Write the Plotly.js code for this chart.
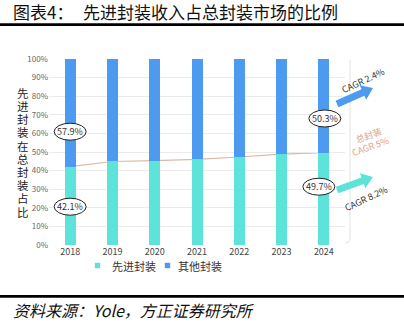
<!DOCTYPE html>
<html>
<head>
<meta charset="utf-8">
<script src="https://cdn.plot.ly/plotly-3.0.1.min.js"></script>
<style>
html,body{margin:0;padding:0;background:#fff;}
#chart{width:404px;height:324px;}
</style>
</head>
<body>
<div id="chart"></div>
<script>
// ---- data ----
const years = ['2018','2019','2020','2021','2022','2023','2024'];
const advanced = [42.1, 44.9, 45.4, 46.0, 47.3, 48.9, 49.7];
const others = [57.9, 55.1, 54.6, 54.0, 52.7, 51.1, 50.3];
const seriesNames = ['先进封装', '其他封装'];
const yTickVals = [0,10,20,30,40,50,60,70,80,90,100];
const yTitleText = '先进封装在总封装占比';
const cagrOther = 'CAGR 2.4%';
const cagrTotal = ['总封装', 'CAGR 5%'];
const cagrAdv = 'CAGR 8.2%';
const titlePrefix = '图表4：';
const titleText = '先进封装收入占总封装市场的比例';
const sourceText = '资料来源：Yole，方正证券研究所';

// ---- styles ----
const CYAN = '#5DE3D9';
const BLUE = '#4C9BF0';
const TAN = '#DBB9A4';
const FONT = '"Noto Sans CJK SC","Noto Sans",sans-serif';

// plot area in pixels
const L = 49, R = 59, T = 59, Bm = 79;
const W = 404 - L - R, H = 324 - T - Bm, BOT = 324 - Bm;
const P = X => (X - L) / W;
const Q = Y => (BOT - Y) / H;
const catPx = i => L + (i + 0.5) * W / years.length;

const traces = [
  {type:'bar', x: years, y: advanced, name: seriesNames[0], marker:{color: CYAN, line:{width:0}}, width: 0.26, showlegend:false, hoverinfo:'skip'},
  {type:'bar', x: years, y: others, name: seriesNames[1], marker:{color: BLUE, line:{width:0}}, width: 0.26, showlegend:false, hoverinfo:'skip'}
];

const shapes = [];
const annotations = [];

// trend line of advanced share (behind bars), category serial numbers
for (let i = 0; i < years.length - 1; i++) {
  shapes.push({type:'line', xref:'x', yref:'y', x0: i, x1: i + 1, y0: advanced[i], y1: advanced[i+1],
    line:{color: TAN, width: 1.2}, layer:'below'});
}

// faint frame at right
shapes.push({type:'path', xref:'paper', yref:'paper', layer:'below',
  path: `M ${P(350)},${Q(60)} L ${P(350)},${Q(238)} Q ${P(350)},${Q(243)} ${P(345)},${Q(243)}`,
  line:{color:'#e2e2e2', width:1}});

// ellipse labels
function ellipse(X, Y, txt) {
  shapes.push({type:'circle', xref:'paper', yref:'paper', x0:P(X-16), x1:P(X+16), y0:Q(Y+8.5), y1:Q(Y-8.5),
    fillcolor:'#ffffff', line:{color:'#222', width:1}, layer:'above'});
  annotations.push({xref:'paper', yref:'paper', x:P(X), y:Q(Y), text: txt, showarrow:false,
    xanchor:'center', yanchor:'middle', font:{family:FONT, size:9, color:'#333'}});
}
const n = years.length - 1;
ellipse(catPx(0), 131.7, others[0].toFixed(1) + '%');
ellipse(catPx(0), 206.7, advanced[0].toFixed(1) + '%');
ellipse(catPx(n) + 1, 118.5, others[n].toFixed(1) + '%');
ellipse(catPx(n) - 5, 186.7, advanced[n].toFixed(1) + '%');

// block arrows
function arrow(Sx, Sy, Tx, Ty, bw, hw, hl, color) {
  const dx = Tx - Sx, dy = Ty - Sy, len = Math.hypot(dx, dy);
  const ux = dx/len, uy = dy/len, nx = -uy, ny = ux;
  const Ex = Tx - ux*hl, Ey = Ty - uy*hl;
  const pts = [
    [Sx + nx*bw, Sy + ny*bw], [Ex + nx*bw, Ey + ny*bw], [Ex + nx*hw, Ey + ny*hw],
    [Tx, Ty], [Ex - nx*hw, Ey - ny*hw], [Ex - nx*bw, Ey - ny*bw], [Sx - nx*bw, Sy - ny*bw]
  ];
  const path = 'M ' + pts.map(p => P(p[0]) + ',' + Q(p[1])).join(' L ') + ' Z';
  shapes.push({type:'path', xref:'paper', yref:'paper', path, fillcolor: color, line:{width:0}, layer:'above'});
}
arrow(337, 104, 373, 88, 3.5, 8, 11, BLUE);
arrow(337, 190, 373, 177, 3.5, 8, 11, CYAN);

// CAGR texts
function rtext(X, Y, txt, color, angle, size) {
  annotations.push({xref:'paper', yref:'paper', x:P(X), y:Q(Y), text: txt, showarrow:false, textangle: angle,
    xanchor:'center', yanchor:'middle', font:{family:FONT, size: size, color: color}});
}
rtext(363, 80, cagrOther, '#333', -25, 9);
rtext(368, 135, cagrTotal[0], '#D9A489', -20, 9);
rtext(370, 146, cagrTotal[1], '#D9A489', -20, 9);
rtext(366, 198, cagrAdv, '#333', -25, 9);

// vertical y-axis title
const yChars = Array.from(yTitleText);
yChars.forEach((c, k) => {
  annotations.push({xref:'paper', yref:'paper', x:P(23), y:Q(92.7 + k*13.2), text:c, showarrow:false,
    xanchor:'center', yanchor:'middle', font:{family:FONT, size:11.5, color:'#222'}});
});

// manual legend
const legendItems = [{sx:97.5, tx:110, color:CYAN, name:seriesNames[0]}, {sx:167.5, tx:176, color:BLUE, name:seriesNames[1]}];
legendItems.forEach(it => {
  shapes.push({type:'rect', xref:'paper', yref:'paper', x0:P(it.sx-2.7), x1:P(it.sx+2.7), y0:Q(268.2), y1:Q(262.8),
    fillcolor: it.color, line:{width:0}});
  annotations.push({xref:'paper', yref:'paper', x:P(it.tx), y:Q(265.5), text: it.name, showarrow:false,
    xanchor:'left', yanchor:'middle', font:{family:FONT, size:11, color:'#333'}});
});

// title and source
annotations.push({xref:'paper', yref:'paper', x:P(11), y:Q(11.5), text:titlePrefix, showarrow:false,
  xanchor:'left', yanchor:'middle', font:{family:FONT, size:17, color:'#111'}});
annotations.push({xref:'paper', yref:'paper', x:P(81), y:Q(11.5), text:titleText, showarrow:false,
  xanchor:'left', yanchor:'middle', font:{family:FONT, size:17, color:'#111'}});
shapes.push({type:'line', xref:'paper', yref:'paper', x0:P(0), x1:P(404), y0:Q(24.7), y1:Q(24.7), line:{color:'#000', width:2.7}});
shapes.push({type:'line', xref:'paper', yref:'paper', x0:P(0), x1:P(404), y0:Q(296.3), y1:Q(296.3), line:{color:'#000', width:2.7}});
annotations.push({xref:'paper', yref:'paper', x:P(11), y:Q(310), text:'<i>' + sourceText + '</i>', showarrow:false,
  xanchor:'left', yanchor:'middle', font:{family:FONT, size:16, color:'#111'}});

const layout = {
  width:404, height:324,
  margin:{l:L, r:R, t:T, b:Bm, pad:0},
  paper_bgcolor:'#fff', plot_bgcolor:'#fff',
  barmode:'stack',
  showlegend:false,
  font:{family:FONT},
  xaxis:{type:'category', categoryorder:'array', categoryarray: years, range:[-0.5, years.length - 0.5], autorange:false,
    showgrid:false, zeroline:false, showline:false, ticks:'',
    tickfont:{family:FONT, size:9, color:'#444'}, fixedrange:true},
  yaxis:{range:[0,100], autorange:false, tickvals:yTickVals, ticktext:yTickVals.map(v => v + '%'), showgrid:true, gridcolor:'#ebebeb',
    gridwidth:1, zeroline:false, showline:false, ticks:'', tickfont:{family:FONT, size:8, color:'#666'}, fixedrange:true},
  shapes, annotations
};

Plotly.newPlot('chart', traces, layout, {staticPlot:true, displayModeBar:false});
</script>
</body>
</html>
